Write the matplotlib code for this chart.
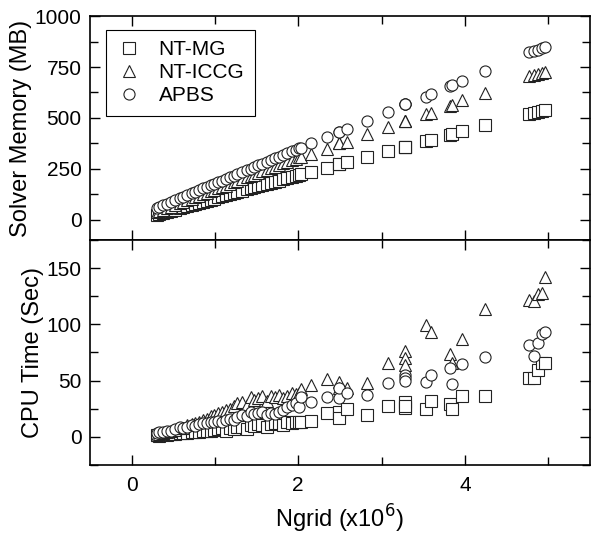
import numpy as np
import matplotlib
matplotlib.use("Agg")
import matplotlib.pyplot as plt
from matplotlib.ticker import MultipleLocator

plt.rcParams['font.family'] = ['Liberation Sans', 'DejaVu Sans']

# Ngrid (x10^6), shared by all three solvers
ngrid = [0.31, 0.33, 0.38, 0.43, 0.47, 0.52, 0.58, 0.62, 0.67, 0.72, 0.76, 0.81,
         0.86, 0.90, 0.95, 0.99, 1.04, 1.09, 1.13, 1.18, 1.23, 1.27, 1.33, 1.38,
         1.43, 1.47, 1.52, 1.57, 1.62, 1.67, 1.72, 1.77, 1.82, 1.87, 1.92, 1.97,
         2.01, 2.03, 2.15, 2.35, 2.49, 2.49, 2.59, 2.82, 3.08, 3.28, 3.28, 3.28,
         3.53, 3.59, 3.82, 3.84, 3.97, 4.24, 4.77, 4.83, 4.88, 4.93, 4.96]

# solver memory (MB)
mem_mg = [25, 27, 33, 39, 43, 49, 56, 60, 66, 72, 77, 82, 88, 93, 98, 103, 109,
          114, 119, 125, 130, 135, 142, 148, 153, 158, 164, 169, 175, 181, 186,
          192, 198, 204, 209, 215, 220, 222, 233, 255, 275, 275, 283, 308, 336,
          359, 359, 359, 386, 391, 414, 419, 436, 464, 521, 526, 530, 535, 538]
mem_iccg = [38, 41, 49, 57, 63, 71, 81, 87, 95, 103, 109, 117, 125, 131, 139,
            145, 153, 161, 167, 175, 183, 189, 199, 207, 215, 221, 229, 237, 244,
            252, 260, 268, 276, 284, 292, 300, 306, 309, 321, 349, 375, 375, 381,
            419, 457, 485, 485, 485, 518, 526, 556, 562, 587, 622, 704, 710, 715,
            722, 727]
mem_apbs = [58, 61, 70, 79, 86, 94, 104, 111, 120, 129, 135, 144, 153, 159, 168,
            175, 184, 192, 199, 208, 216, 223, 233, 242, 251, 258, 266, 275, 283,
            292, 301, 309, 318, 326, 335, 344, 350, 354, 375, 408, 431, 431, 447,
            485, 530, 566, 566, 566, 605, 617, 655, 661, 682, 729, 822, 830, 836,
            842, 847]

# CPU time (sec)
cpu_mg = [1.5, 1.0, 2.0, 1.8, 2.5, 2.2, 3.0, 3.5, 3.2, 4.0, 4.5, 3.8, 5.0, 5.5,
          4.8, 6.0, 6.5, 7.5, 5.5, 8.0, 7.0, 8.5, 9.0, 6.5, 10.0, 9.5, 11.0, 10.0,
          8.5, 11.5, 12.0, 12.0, 10.5, 13.0, 12.5, 13.0, 13.5, 13.5, 14, 21, 22,
          17, 25, 19, 27, 30.5, 25.4, 27, 24.5, 32, 29, 25, 36.5, 36, 52, 52, 59,
          66, 66]
cpu_iccg = [1.5, 2.0, 3.0, 4.0, 5.0, 6.0, 7.5, 8.0, 10.0, 11.0, 12.0, 13.0, 15.0,
            16.0, 18.0, 19.0, 21.0, 22.0, 24.0, 25.0, 27.0, 30.0, 31.0, 28.0,
            35.0, 33.0, 34.0, 36.0, 32.0, 36.0, 35.0, 37.0, 34.0, 36.0, 39.0,
            38.0, 39.0, 42.0, 46, 51, 49, 43, 43, 48, 66, 76, 70, 64, 99, 93, 74,
            66, 87, 114, 122, 121, 127, 128, 142]
cpu_apbs = [3.6, 4.0, 4.5, 5.0, 5.5, 7.0, 8.5, 8.0, 9.0, 10.0, 9.5, 11.0, 12.5,
            12.0, 13.0, 13.0, 14.0, 13.5, 15.0, 16.0, 15.0, 17.5, 19.0, 18.0,
            22.0, 20.0, 21.0, 22.0, 19.0, 21.0, 20.0, 22.0, 24.0, 26.0, 28.0,
            30.0, 26.0, 35.0, 31, 35, 34, 43, 39, 37, 48, 55, 52, 50, 49, 55, 61,
            47, 65, 71, 82, 72, 83, 91, 93]

labels = ['NT-MG', 'NT-ICCG', 'APBS']
markers = ['s', '^', 'o']

fig = plt.figure(figsize=(6, 5.38), dpi=100)
ax1 = fig.add_axes([0.15, 0.554, 0.833, 0.416])
ax2 = fig.add_axes([0.15, 0.136, 0.833, 0.418], sharex=ax1)

mem = [mem_mg, mem_iccg, mem_apbs]
cpu = [cpu_mg, cpu_iccg, cpu_apbs]
for i in range(3):
    ax1.plot(ngrid, mem[i], linestyle='none', marker=markers[i], ms=8,
             mfc='white', mec='#222222', mew=0.8, label=labels[i])
    ax2.plot(ngrid, cpu[i], linestyle='none', marker=markers[i], ms=8,
             mfc='white', mec='#222222', mew=0.8)

ax1.set_xlim(-0.5, 5.5)
ax1.set_ylim(-100, 1000)
ax2.set_ylim(-25, 175)
ax1.yaxis.set_major_locator(MultipleLocator(250))
ax1.yaxis.set_minor_locator(MultipleLocator(125))
ax2.yaxis.set_major_locator(MultipleLocator(50))
ax2.yaxis.set_minor_locator(MultipleLocator(25))
ax2.xaxis.set_major_locator(MultipleLocator(2))
ax2.xaxis.set_minor_locator(MultipleLocator(1))

for ax in (ax1, ax2):
    ax.tick_params(which='both', direction='in', top=True, right=True,
                   labelsize=15, width=1.0)
    ax.tick_params(which='major', length=7)
    ax.tick_params(which='minor', length=6)
    ax.tick_params(axis='y', pad=6)
    ax.tick_params(axis='x', pad=8)
    for s in ax.spines.values():
        s.set_linewidth(1.2)
ax1.tick_params(labelbottom=False)

ax1.set_ylabel('Solver Memory (MB)', fontsize=17, labelpad=2)
ax2.set_ylabel('CPU Time (Sec)', fontsize=17, labelpad=2)
ax2.set_xlabel('Ngrid (x10$^6$)', fontsize=17, labelpad=6)
fig.align_ylabels([ax1, ax2])

leg = ax1.legend(loc='upper left', bbox_to_anchor=(0.033, 0.94), fontsize=15,
                 fancybox=False, edgecolor='black', framealpha=1,
                 handletextpad=0.8, borderpad=0.5, labelspacing=0.2,
                 handlelength=1.2, borderaxespad=0)
leg.get_frame().set_linewidth(0.8)

fig.savefig('out.png', dpi=100)
